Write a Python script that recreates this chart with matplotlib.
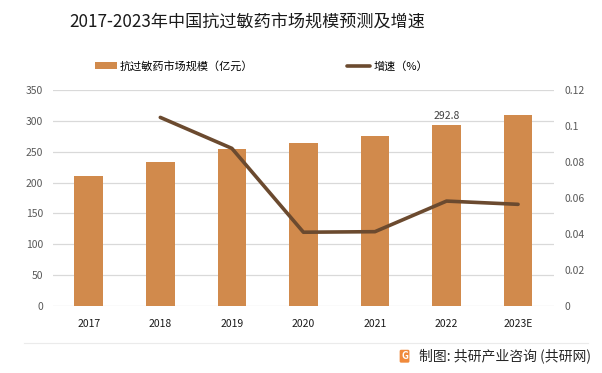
import matplotlib
matplotlib.use("Agg")
import matplotlib.pyplot as plt
import numpy as np

plt.rcParams['font.family'] = ['Noto Sans CJK SC', 'DejaVu Sans']

# data
years = ['2017', '2018', '2019', '2020', '2021', '2022', '2023E']
market = [210.7, 233.4, 254.5, 264.2, 275.5, 292.8, 309.6]
growth_years = ['2018', '2019', '2020', '2021', '2022', '2023E']
growth = [0.1048, 0.0876, 0.041, 0.0413, 0.0583, 0.0565]

bar_color = '#D18A4C'
line_color = '#6B4A2F'
grid_color = '#D9D9D9'

fig = plt.figure(figsize=(6.02, 3.73), dpi=100)
ax = fig.add_axes([0.088, 0.1796, 0.832, 0.579])
ax2 = ax.twinx()

x = np.arange(len(years))
ax.bar(x, market, width=0.4, color=bar_color, zorder=2, label='抗过敏药市场规模（亿元）')
gx = [years.index(y) for y in growth_years]
ax2.plot(gx, growth, color=line_color, lw=2.6, solid_capstyle='round',
         label='增速（%）')

ax.set_xlim(-0.5, len(years) - 0.5)
ax.set_ylim(0, 350)
ax.set_yticks(np.arange(0, 351, 50))
ax2.set_ylim(0, 0.12)
ax2.set_yticks([0, 0.02, 0.04, 0.06, 0.08, 0.1, 0.12])
ax2.set_yticklabels(['0', '0.02', '0.04', '0.06', '0.08', '0.1', '0.12'])

ax.set_xticks(x)
ax.set_xticklabels(years, fontsize=7.5, color='#1A1A1A')
ax.tick_params(axis='y', labelsize=7.5, labelcolor='#595959', length=0, pad=7)
ax.tick_params(axis='x', length=0, pad=9)
ax2.tick_params(axis='y', labelsize=7.5, labelcolor='#595959', length=0, pad=8)
ax.grid(axis='y', color=grid_color, lw=0.9, zorder=0)
ax.set_axisbelow(True)
for a in (ax, ax2):
    for s in a.spines.values():
        s.set_visible(False)

# label on 2022 bar
i22 = years.index('2022')
ax.text(i22, market[i22] + 7, f'{market[i22]}', ha='center', va='bottom',
        fontsize=7.5, color='#404040')

fig.text(0.41, 0.94, '2017-2023年中国抗过敏药市场规模预测及增速', ha='center',
         va='center', fontsize=12.3, color='#1A1A1A')

# legend
h1, l1 = ax.get_legend_handles_labels()
h2, l2 = ax2.get_legend_handles_labels()
fig.legend([h1[0]], [l1[0]], loc='center left', bbox_to_anchor=(0.142, 0.822),
           frameon=False, fontsize=8, handlelength=1.9, handleheight=0.6,
           handletextpad=0.3)
fig.legend([h2[0]], [l2[0]], loc='center left', bbox_to_anchor=(0.56, 0.822),
           frameon=False, fontsize=8, handlelength=2.1, handletextpad=0.25)

# footer
fig.add_artist(plt.Line2D([0.04, 0.977], [0.081, 0.081], color='#EBEBEB', lw=0.8))
fig.text(0.672, 0.045, 'G', fontsize=7, color='white', ha='center', va='center',
         fontweight='bold',
         bbox=dict(boxstyle='round,pad=0.15', fc='#F08A3C', ec='none'))
fig.text(0.696, 0.045, '制图: 共研产业咨询 (共研网)', fontsize=10,
         color='#262626', ha='left', va='center')

fig.savefig('out.png', dpi=100)
